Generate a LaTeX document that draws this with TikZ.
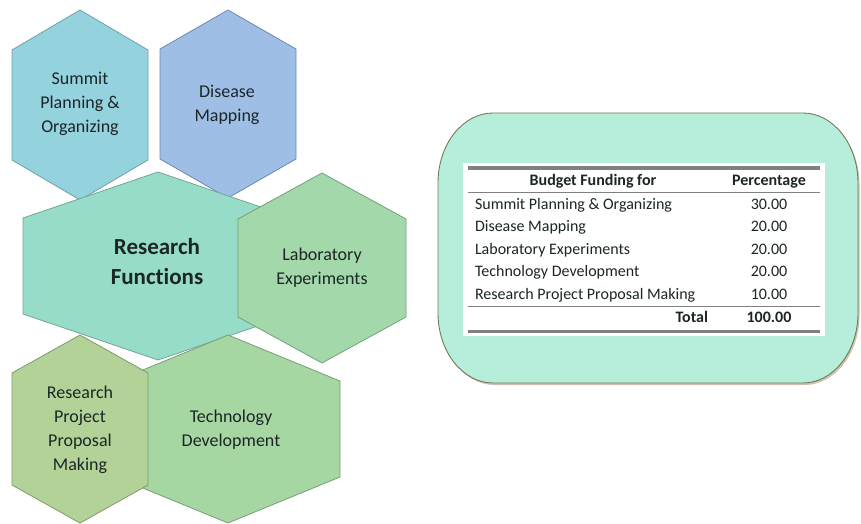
\documentclass[tikz,border=0pt]{standalone}
\usepackage{fontspec}
\setmainfont{Carlito}[Ligatures=NoCommon]
\usepackage{array}
\usepackage{booktabs}
\usepackage{colortbl}
\usetikzlibrary{shadows}

\definecolor{summitfill}{RGB}{148,210,222}
\definecolor{summitline}{RGB}{112,160,172}
\definecolor{diseasefill}{RGB}{158,190,230}
\definecolor{diseaseline}{RGB}{112,136,172}
\definecolor{researchfill}{RGB}{150,220,200}
\definecolor{researchline}{RGB}{116,166,150}
\definecolor{labfill}{RGB}{162,216,170}
\definecolor{labline}{RGB}{118,160,124}
\definecolor{techfill}{RGB}{166,214,162}
\definecolor{techline}{RGB}{120,158,118}
\definecolor{proposalfill}{RGB}{178,210,152}
\definecolor{proposalline}{RGB}{126,154,108}
\definecolor{panelfill}{RGB}{182,238,219}
\definecolor{panelline}{RGB}{112,124,84}
\definecolor{textdark}{RGB}{28,38,38}

% hexagon: style, centre, half width, half height, half side
\newcommand{\hexcell}[5]{\path[#1, shift={(#2)}] (0,-#4) -- (#3,-#5) -- (#3,#5) -- (0,#4) -- (-#3,#5) -- (-#3,-#5) -- cycle;}

\setlength{\heavyrulewidth}{3.5pt}
\setlength{\lightrulewidth}{1.2pt}
\setlength{\aboverulesep}{0pt}
\setlength{\belowrulesep}{0pt}

\begin{document}
\begin{tikzpicture}[
            x=1pt, y=-1pt,
            hex/.style={draw, line width=0.8pt},
            hexlabel/.style={align=center, text=textdark, font=\fontsize{18}{24}\selectfont},
            panel/.style={fill=panelfill, draw=panelline, line width=0.9pt,
                drop shadow={shadow xshift=1.5pt, shadow yshift=-2pt, fill=brown!60!black, opacity=0.35}},
            tablebox/.style={fill=white, inner xsep=5pt, inner ysep=3pt, text=textdark,
                font=\fontsize{16}{22.5}\selectfont}
  ]

  \useasboundingbox (0,0) rectangle (861,524);

  % hexagons
  \hexcell{hex, fill=summitfill, draw=summitline}{80,105}{68}{95}{55}
  \hexcell{hex, fill=diseasefill, draw=diseaseline}{228,104}{68}{94}{55}
  \hexcell{hex, fill=researchfill, draw=researchline}{158,266}{135}{94}{48}
  \hexcell{hex, fill=labfill, draw=labline}{322,268}{84}{95}{49}
  \hexcell{hex, fill=techfill, draw=techline}{228,429}{112}{94}{48}
  \hexcell{hex, fill=proposalfill, draw=proposalline}{80,429}{68}{94}{56}

  \node[hexlabel] (summit) at (80,104) {Summit\\Planning \&\\Organizing};
  \node[hexlabel] (disease) at (227,105) {Disease\\Mapping};
  \node[hexlabel, font=\bfseries\fontsize{23}{30}\selectfont] (research) at (157,262) {Research\\Functions};
  \node[hexlabel] (lab) at (322,268) {Laboratory\\Experiments};
  \node[hexlabel] (tech) at (231,430) {Technology\\Development};
  \node[hexlabel] (proposal) at (80,430) {Research\\Project\\Proposal\\Making};

  % budget panel
  \draw[panel] (493,113) -- (803,113)
    .. controls (833,113) and (858,144) .. (858,183) -- (858,313)
    .. controls (858,352) and (833,383) .. (803,383) -- (493,383)
    .. controls (463,383) and (438,352) .. (438,313) -- (438,183)
    .. controls (438,144) and (463,113) .. (493,113) -- cycle;

  \arrayrulecolor{gray}
  \node[tablebox] (budget) at (644,249.6) {%
    \begin{tabular}{@{\hspace{7pt}}p{243pt}@{}>{\centering\arraybackslash}p{102pt}@{}}
      \toprule
      \multicolumn{1}{@{}>{\centering\arraybackslash}p{250pt}@{}}{\bfseries Budget Funding for} & \bfseries Percentage \\
      \midrule
      Summit Planning \& Organizing & 30.00 \\
      Disease Mapping & 20.00 \\
      Laboratory Experiments & 20.00 \\
      Technology Development & 20.00 \\
      Research Project Proposal Making & 10.00 \\
      \midrule
      \multicolumn{1}{@{}r@{\hspace{10pt}}}{\bfseries Total} & \bfseries 100.00 \\
      \bottomrule
    \end{tabular}};

\end{tikzpicture}
\end{document}
